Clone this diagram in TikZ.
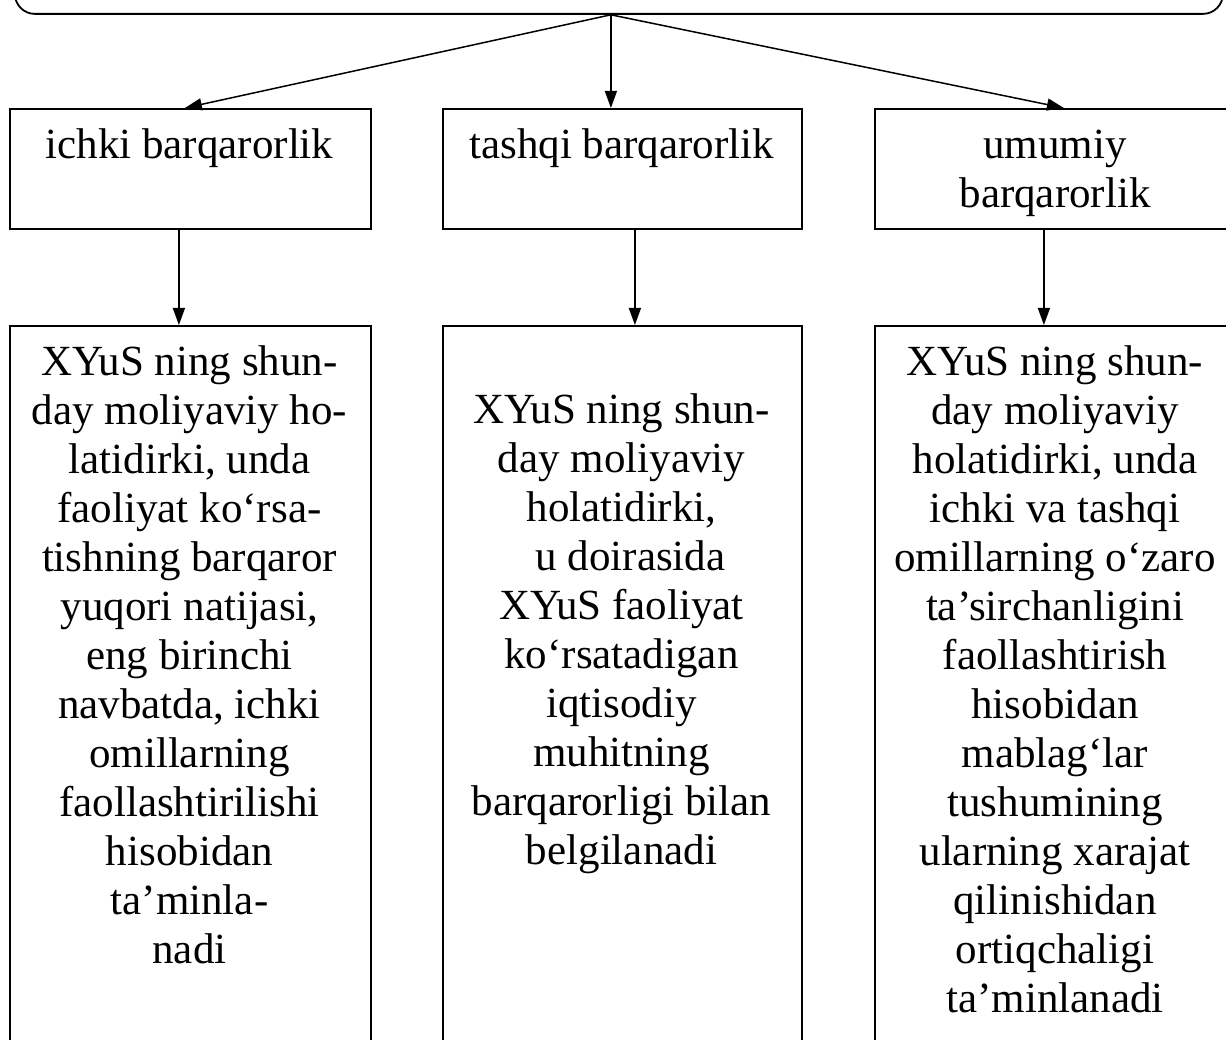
\documentclass[tikz,border=0pt]{standalone}
\usepackage{fontspec}
\setmainfont{Liberation Serif}
\usetikzlibrary{arrows.meta}
\begin{document}
\begin{tikzpicture}[x=1pt,y=-1pt,
  box/.style={draw, line width=1.8pt, rectangle, inner sep=0pt, anchor=north west},
  txt/.style={anchor=north, align=center, inner sep=0pt, font=\fontsize{43}{49}\selectfont},
  arr/.style={-{Triangle[length=17pt,width=12pt]}, line width=1.5pt}]
\useasboundingbox (0,0) rectangle (1226,1040);
% top (cut-off) rounded box
\node[box, rounded corners=20pt, minimum width=1208pt, minimum height=60pt] (top) at (14,-47) {};
% middle row boxes
\node[box, minimum width=361pt, minimum height=120pt] (m1) at (9,108) {};
\node[box, minimum width=359pt, minimum height=120pt] (m2) at (442,108) {};
\node[box, minimum width=362pt, minimum height=120pt] (m3) at (874,108) {};
% lower row boxes
\node[box, minimum width=361pt, minimum height=740pt] (l1) at (9,325) {};
\node[box, minimum width=359pt, minimum height=740pt] (l2) at (442,325) {};
\node[box, minimum width=362pt, minimum height=740pt] (l3) at (874,325) {};
% texts
\node[txt] (t1) at (189.5,123.7) {\strut ichki barqarorlik};
\node[txt] (t2) at (621.5,123.7) {\strut tashqi barqarorlik};
\node[txt] (t3) at (1055,123.7) {\strut umumiy\\barqarorlik};
\node[txt] (t4) at (189.5,340.7) {\strut XYuS ning shun-\\day moliyaviy ho-\\latidirki, unda\\faoliyat ko‘rsa-\\tishning barqaror\\yuqori natijasi,\\eng birinchi\\navbatda, ichki\\omillarning\\faollashtirilishi\\hisobidan\\ta’minla-\\nadi};
\node[txt] (t5) at (621.5,388.7) {\strut XYuS ning shun-\\day moliyaviy\\holatidirki,\\\hspace*{18pt}u doirasida\\XYuS faoliyat\\ko‘rsatadigan\\iqtisodiy\\muhitning\\barqarorligi bilan\\belgilanadi};
\node[txt] (t6) at (1055,340.7) {\strut XYuS ning shun-\\day moliyaviy\\holatidirki, unda\\ichki va tashqi\\omillarning o‘zaro\\ta’sirchanligini\\faollashtirish\\hisobidan\\mablag‘lar\\tushumining\\ularning xarajat\\qilinishidan\\ortiqchaligi\\ta’minlanadi};
% arrows from top
\draw[arr] ([xshift=-8pt]top.south) -- ([xshift=-5.5pt]m1.north);
\draw[arr] ([xshift=-8pt]top.south) -- ([xshift=-11.5pt]m2.north);
\draw[arr] ([xshift=-8pt]top.south) -- ([xshift=8pt]m3.north);
% arrows down
\draw[arr] ([xshift=-11.5pt]m1.south) -- ([xshift=-11.5pt]l1.north);
\draw[arr] ([xshift=12.5pt]m2.south) -- ([xshift=12.5pt]l2.north);
\draw[arr] ([xshift=-12pt]m3.south) -- ([xshift=-12pt]l3.north);
\end{tikzpicture}
\end{document}
